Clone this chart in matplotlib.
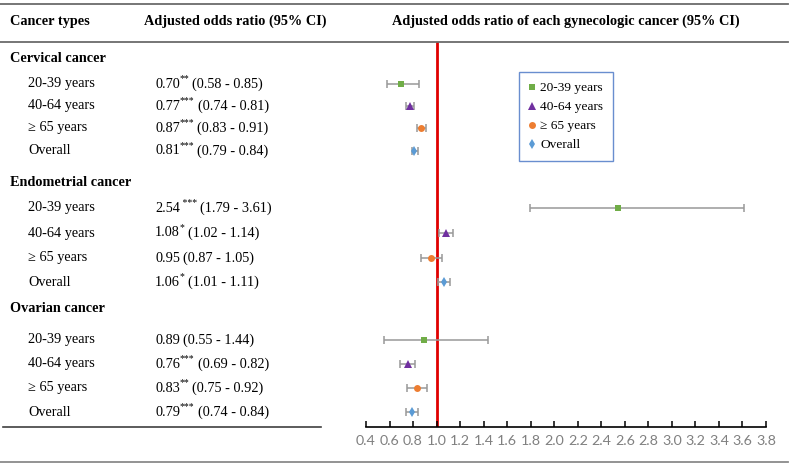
import matplotlib
matplotlib.use("Agg")
import matplotlib.pyplot as plt
import matplotlib.transforms as mtransforms
from matplotlib.lines import Line2D
import numpy as np

# ---------------- data ----------------
cancer_types = ["Cervical cancer", "Endometrial cancer", "Ovarian cancer"]
age_groups = ["20-39 years", "40-64 years", "\u2265 65 years", "Overall"]
legend_labels = ["20-39 years", "40-64 years", "\u2265 65 years", "Overall"]

odds_ratio = [[0.70, 0.77, 0.87, 0.81],
              [2.54, 1.08, 0.95, 1.06],
              [0.89, 0.76, 0.83, 0.79]]
ci_low = [[0.58, 0.74, 0.83, 0.79],
          [1.79, 1.02, 0.87, 1.01],
          [0.55, 0.69, 0.75, 0.74]]
ci_high = [[0.85, 0.81, 0.91, 0.84],
           [3.61, 1.14, 1.05, 1.11],
           [1.44, 0.82, 0.92, 0.84]]
signif = [["**", "***", "***", "***"],
          [" ***", "*", "", "*"],
          ["", "***", "**", "***"]]
or_text = [["0.70", "0.77", "0.87", "0.81"],
           ["2.54", "1.08", "0.95", "1.06"],
           ["0.89", "0.76", "0.83", "0.79"]]
ci_text = [["(0.58 - 0.85)", "(0.74 - 0.81)", "(0.83 - 0.91)", "(0.79 - 0.84)"],
           ["(1.79 - 3.61)", "(1.02 - 1.14)", "(0.87 - 1.05)", "(1.01 - 1.11)"],
           ["(0.55 - 1.44)", "(0.69 - 0.82)", "(0.75 - 0.92)", "(0.74 - 0.84)"]]
x_ticks = [0.4, 0.6, 0.8, 1.0, 1.2, 1.4, 1.6, 1.8, 2.0, 2.2, 2.4, 2.6, 2.8,
           3.0, 3.2, 3.4, 3.6, 3.8]

# ---------------- layout (pixels, from top) ----------------
W, H = 794, 467
header_y = [59, 182, 308]
row_y = [[84, 106, 128, 151],
         [208, 233, 258, 282],
         [340, 364, 388, 412]]
colors = ["#70AD47", "#7030A0", "#ED7D31", "#5B9BD5"]
markers = ["s", "^", "o", "d"]
msizes = [4.5, 5.2, 5.0, 4.6]

serif = ["Liberation Serif", "DejaVu Serif"]
fs = 10.3

fig = plt.figure(figsize=(W / 100, H / 100), dpi=100)
trans = mtransforms.Affine2D().scale(1 / W, -1 / H).translate(0, 1) + fig.transFigure

def hline(x0, x1, y, color, lw):
    fig.add_artist(Line2D([x0, x1], [y, y], transform=trans, color=color, lw=lw))

hline(0, 788, 4, "#6b6b6b", 1.3)
hline(0, 788, 42, "#6b6b6b", 1.3)
hline(3, 321, 427, "#404040", 1.2)
hline(0, 788, 462, "#8a8a8a", 1.3)

# Headers
fig.text(10, 21, "Cancer types", transform=trans, family=serif, weight="bold",
         fontsize=fs, va="center", ha="left")
fig.text(144, 21, "Adjusted odds ratio (95% CI)", transform=trans, family=serif,
         weight="bold", fontsize=fs, va="center", ha="left")
fig.text(566, 21, "Adjusted odds ratio of each gynecologic cancer (95% CI)",
         transform=trans, family=serif, weight="bold", fontsize=fs, va="center",
         ha="center")

renderer = fig.canvas.get_renderer()

for g, name in enumerate(cancer_types):
    fig.text(10, header_y[g], name, transform=trans, family=serif, weight="bold",
             fontsize=fs, va="center", ha="left")
    for i, age in enumerate(age_groups):
        y = row_y[g][i]
        fig.text(28, y, age, transform=trans, family=serif, fontsize=fs,
                 va="center", ha="left")
        t = fig.text(155, y, or_text[g][i], transform=trans, family=serif,
                     fontsize=fs, va="center", ha="left")
        x = t.get_window_extent(renderer).x1
        if signif[g][i]:
            s = fig.text(x, y - 5, signif[g][i], transform=trans, family=serif,
                         fontsize=7, va="center", ha="left")
            x = s.get_window_extent(renderer).x1
        fig.text(x + 3, y, ci_text[g][i], transform=trans, family=serif,
                 fontsize=fs, va="center", ha="left")

# ---------------- forest plot ----------------
ax = fig.add_axes([366 / W, (H - 427) / H, 400 / W, (427 - 42) / H])
ax.set_xlim(0.4, 3.8)
ax.set_ylim(427, 42)
ax.axvline(1.0, color="#E00000", lw=2, zorder=1)

or_arr = np.array(odds_ratio)
lo_arr = np.array(ci_low)
hi_arr = np.array(ci_high)
y_arr = np.array(row_y)
for i in range(len(age_groups)):
    xv = or_arr[:, i]
    yv = y_arr[:, i]
    err = np.vstack([xv - lo_arr[:, i], hi_arr[:, i] - xv])
    ax.errorbar(xv, yv, xerr=err, fmt="none", ecolor="#999999", elinewidth=1.1,
                capsize=3, capthick=1.1, zorder=2)
    ax.plot(xv, yv, ls="none", marker=markers[i], color=colors[i],
            markersize=msizes[i], markeredgewidth=0, zorder=3,
            label=legend_labels[i])

for sp in ["top", "left", "right"]:
    ax.spines[sp].set_visible(False)
ax.spines["bottom"].set_color("#000000")
ax.spines["bottom"].set_linewidth(1.2)
ax.set_yticks([])
ax.set_xticks(x_ticks)
ax.set_xticklabels([f"{v:.1f}" for v in x_ticks])
ax.tick_params(axis="x", direction="in", length=4, width=1.1, color="#000000",
               labelcolor="#808080", labelsize=10.3, pad=6)
for lab in ax.get_xticklabels():
    lab.set_family(["Lato", "DejaVu Sans"])

leg = ax.legend(loc="upper left", bbox_to_anchor=(519 / W, 1 - 72 / H),
                bbox_transform=fig.transFigure, frameon=True, fancybox=False,
                borderaxespad=0, handlelength=0.5, handletextpad=0.35,
                labelspacing=0.5, borderpad=0.75,
                prop={"family": serif, "size": 9.6})
leg.get_frame().set_edgecolor("#4472C4")
leg.get_frame().set_linewidth(1.0)

fig.savefig("out.png", dpi=100)
